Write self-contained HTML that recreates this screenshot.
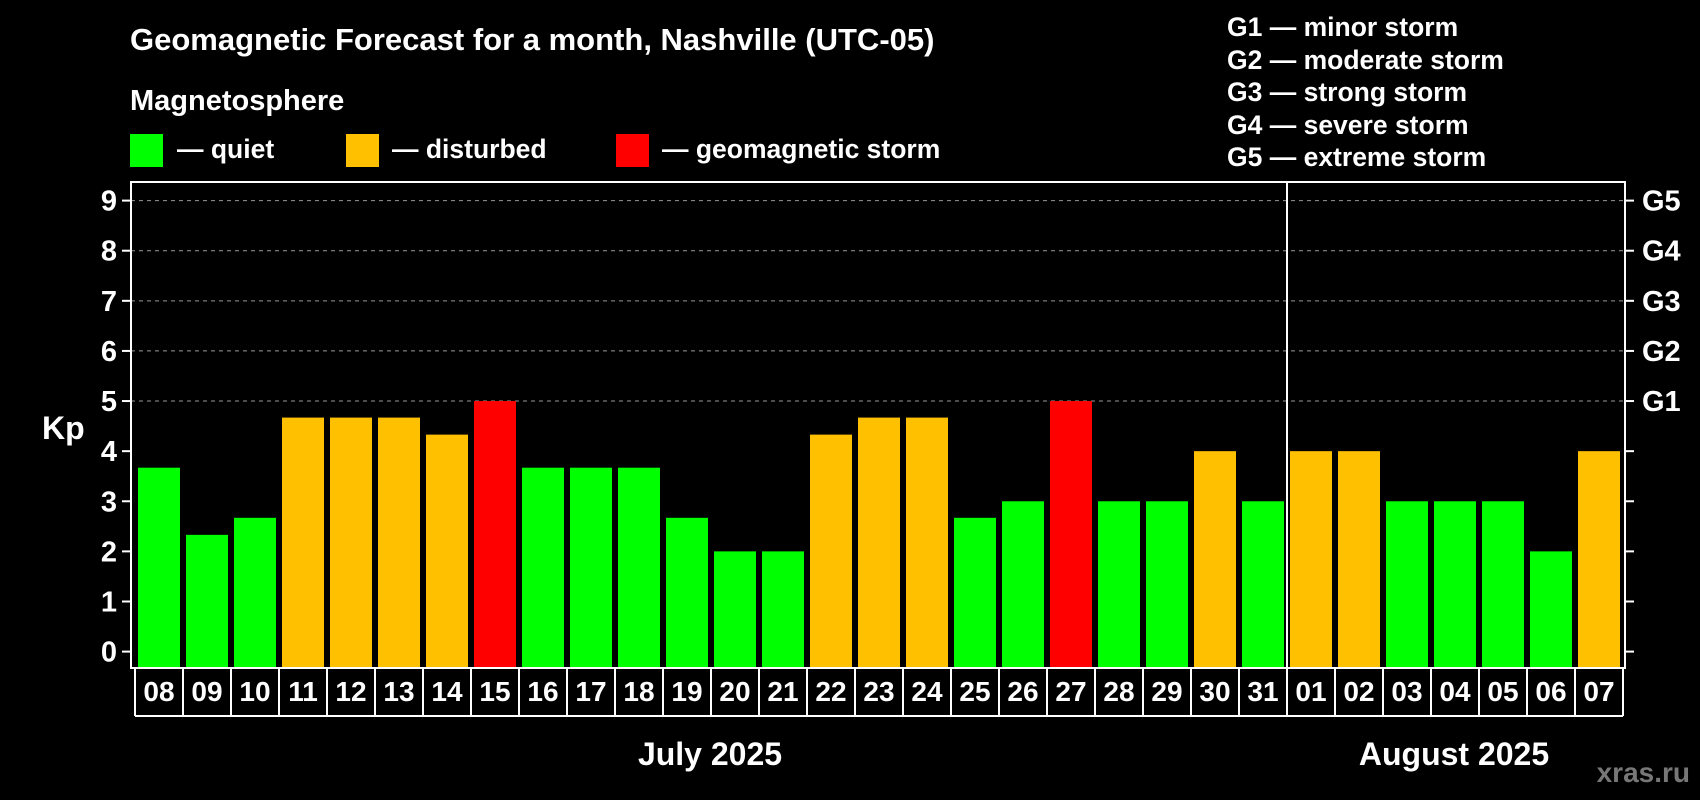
<!DOCTYPE html>
<html><head><meta charset="utf-8"><style>
html,body{margin:0;padding:0;background:#000;width:1700px;height:800px;overflow:hidden}
svg text{font-family:"Liberation Sans",Arial,sans-serif;font-weight:bold;fill:#fff}
</style></head><body>
<svg id="chart" width="1700" height="800" xmlns="http://www.w3.org/2000/svg">
<text x="130" y="50" font-size="31">Geomagnetic Forecast for a month, Nashville (UTC-05)</text>
<text x="130" y="110" font-size="29">Magnetosphere</text>
<g><rect x="130" y="134" width="33" height="33" fill="#00ff00"/><text x="177" y="158" font-size="26.5">— quiet</text></g>
<g><rect x="346" y="134" width="33" height="33" fill="#ffc000"/><text x="392" y="158" font-size="26.5">— disturbed</text></g>
<g><rect x="616" y="134" width="33" height="33" fill="#ff0000"/><text x="662" y="158" font-size="26.5">— geomagnetic storm</text></g>
<g font-size="26.5">
<text x="1227" y="36">G1 — minor storm</text>
<text x="1227" y="69">G2 — moderate storm</text>
<text x="1227" y="101">G3 — strong storm</text>
<text x="1227" y="134">G4 — severe storm</text>
<text x="1227" y="166">G5 — extreme storm</text>
</g>
<text x="42" y="439" font-size="32">Kp</text>
<g id="grid"></g><g id="bars"></g><g id="axes"></g><g id="xlabels"></g>
<text x="710" y="765" font-size="32" text-anchor="middle">July 2025</text>
<text x="1454" y="765" font-size="32" text-anchor="middle">August 2025</text>
<text x="1690" y="782" font-size="28" text-anchor="end" style="fill:#777">xras.ru</text>
</svg>
<script>
const days=["08","09","10","11","12","13","14","15","16","17","18","19","20","21","22","23","24","25","26","27","28","29","30","31","01","02","03","04","05","06","07"];
const kpValues=[3.67,2.33,2.67,4.67,4.67,4.67,4.33,5,3.67,3.67,3.67,2.67,2,2,4.33,4.67,4.67,2.67,3,5,3,3,4,3,4,4,3,3,3,2,4];
const yTicks=[0,1,2,3,4,5,6,7,8,9];
const gLabels=["","","","","","G1","G2","G3","G4","G5"];
const NS="http://www.w3.org/2000/svg";
const L=131,R=1625,T=182,B=668,Y0=651.6,Y9=200.6,pitch=48,x0=135;
const y=v=>Y0-(Y0-Y9)*v/9;
const xb=i=>x0+i*pitch;
function mk(t,a,p){const e=document.createElementNS(NS,t);for(const k in a)e.setAttribute(k,a[k]);p.appendChild(e);return e;}
const grid=document.getElementById('grid'),bars=document.getElementById('bars'),axes=document.getElementById('axes'),xl=document.getElementById('xlabels');
yTicks.forEach((v,i)=>{
 if(v>=5){const g=mk('line',{x1:L,x2:R,y1:y(v),y2:y(v),stroke:'#999','stroke-width':1,'stroke-dasharray':'4,4'},grid);
 
 }
 const t1=mk('line',{x1:L-9,x2:L,y1:y(v),y2:y(v),stroke:'#fff','stroke-width':2},axes);
 
 
 const t2=mk('line',{x1:R,x2:R+9,y1:y(v),y2:y(v),stroke:'#fff','stroke-width':2},axes);
 
 
 const lb=mk('text',{x:117,y:y(v)+10,'font-size':29,'text-anchor':'end'},axes);lb.textContent=v;
 
 
 if(gLabels[i]){const g=mk('text',{x:1642,y:y(v)+10,'font-size':29},axes);g.textContent=gLabels[i];
 
 }
});
kpValues.forEach((v,i)=>{
 const c=v>=5?'#ff0000':(v>=4?'#ffc000':'#00ff00');
 const r=mk('rect',{x:xb(i)+3,y:y(v),width:42,height:B-y(v),fill:c},bars);
 
 
 const t=mk('text',{x:xb(i)+24,y:701,'font-size':28,'text-anchor':'middle'},xl);t.textContent=days[i];
 
 
});
const fr=mk('rect',{x:L,y:T,width:R-L,height:B-T,fill:'none',stroke:'#fff','stroke-width':2},axes);


const sep=mk('line',{x1:xb(24),x2:xb(24),y1:T,y2:B,stroke:'#fff','stroke-width':2},axes);


for(let i=0;i<=days.length;i++){
 const l=mk('line',{x1:xb(i),x2:xb(i),y1:B,y2:716,stroke:'#fff','stroke-width':2},xl);
 
 
}
const bl=mk('line',{x1:xb(0),x2:xb(days.length),y1:716,y2:716,stroke:'#fff','stroke-width':2},xl);


</script>
</body></html>
